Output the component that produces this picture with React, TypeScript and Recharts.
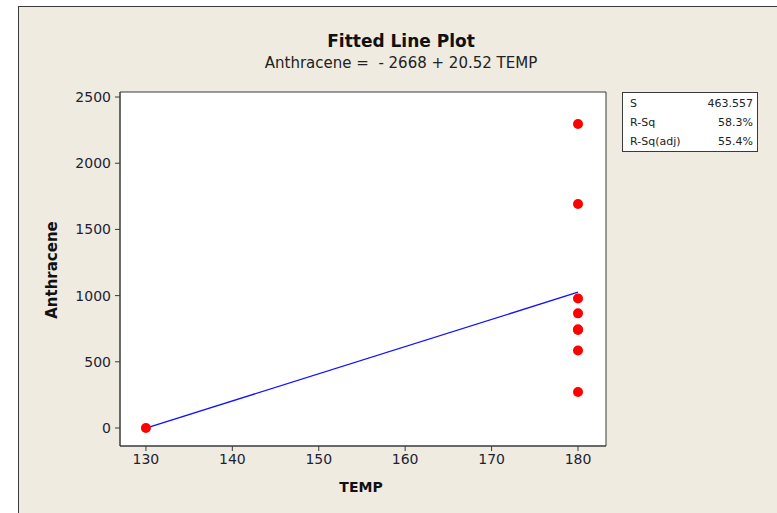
import React from "react";
import {
  ComposedChart,
  Scatter,
  Line,
  XAxis,
  YAxis,
  CartesianGrid,
  ReferenceArea,
} from "recharts";

// observed points (several overlap at TEMP = 180)
const obsTemp = [130, 180, 180, 180, 180, 180, 180, 180, 180];
const obsAnthracene = [0, 2296, 1692, 978, 866, 745, 740, 585, 272];

// fitted line endpoints: Anthracene = -2668 + 20.52 TEMP
const fitTemp = [130, 180];
const fitAnthracene = [-0.4, 1025.6];

const xTicks = [130, 140, 150, 160, 170, 180];
const yTicks = [0, 500, 1000, 1500, 2000, 2500];

const statLabels = ["S", "R-Sq", "R-Sq(adj)"];
const statValues = ["463.557", "58.3%", "55.4%"];

const xDomain: [number, number] = [127, 183.24];
const yDomain: [number, number] = [-136, 2538];

const font = "'DejaVu Sans', Verdana, sans-serif";
const tickColor = "#221f33";

const obsData = obsTemp.map((t, i) => ({ temp: t, value: obsAnthracene[i] }));
const fitData = fitTemp.map((t, i) => ({ temp: t, value: fitAnthracene[i] }));

const Dot = (p: any) => <circle cx={p.cx} cy={p.cy} r={5} fill="#ff0000" />;

export default function App() {
  return (
    <div
      style={{
        position: "absolute",
        left: 0,
        top: 0,
        width: 777,
        height: 513,
        background: "#ffffff",
        overflow: "hidden",
        fontFamily: font,
      }}
    >
      {/* graph window */}
      <div
        style={{
          position: "absolute",
          left: 18,
          top: 6,
          width: 780,
          height: 520,
          background: "#efebe1",
          borderLeft: "1px solid #3a3a3a",
          borderTop: "1px solid #3a3a3a",
        }}
      />

      <div
        style={{
          position: "absolute",
          left: 18,
          width: 766,
          top: 31,
          textAlign: "center",
          fontSize: 17,
          fontWeight: "bold",
          color: "#111",
        }}
      >
        Fitted Line Plot
      </div>
      <div
        style={{
          position: "absolute",
          left: 18,
          width: 766,
          top: 54,
          textAlign: "center",
          fontSize: 15,
          color: "#222",
          whiteSpace: "pre",
        }}
      >
        {"Anthracene =  - 2668 + 20.52 TEMP"}
      </div>

      <div style={{ position: "absolute", left: 0, top: 0 }}>
        <ComposedChart
          width={777}
          height={513}
          margin={{ top: 92, right: 171, bottom: 37, left: 60 }}
        >
          <CartesianGrid fill="#ffffff" horizontal={false} vertical={false} />
          <XAxis
            dataKey="temp"
            type="number"
            domain={xDomain}
            ticks={xTicks}
            allowDataOverflow
            height={30}
            tickSize={5}
            tickMargin={3}
            stroke="#3a3a3a"
            tick={{ fill: tickColor, fontSize: 14, fontFamily: font }}
          />
          <YAxis
            dataKey="value"
            type="number"
            domain={yDomain}
            ticks={yTicks}
            allowDataOverflow
            width={60}
            tickSize={5}
            tickMargin={4}
            stroke="#3a3a3a"
            tick={{ fill: tickColor, fontSize: 14, fontFamily: font }}
          />
          <ReferenceArea
            x1={xDomain[0]}
            x2={xDomain[1]}
            y1={yDomain[0]}
            y2={yDomain[1]}
            fill="none"
            stroke="#3a3a3a"
            strokeWidth={1}
          />
          <Line
            data={fitData}
            dataKey="value"
            stroke="#1010ff"
            strokeWidth={1.3}
            dot={false}
            isAnimationActive={false}
          />
          <Scatter
            data={obsData}
            dataKey="value"
            shape={Dot}
            isAnimationActive={false}
          />
        </ComposedChart>
      </div>

      <div
        style={{
          position: "absolute",
          left: 52 - 60,
          top: 261,
          width: 120,
          textAlign: "center",
          transform: "rotate(-90deg)",
          fontSize: 15,
          fontWeight: "bold",
          color: "#111",
        }}
      >
        Anthracene
      </div>
      <div
        style={{
          position: "absolute",
          left: 301,
          width: 120,
          top: 479,
          textAlign: "center",
          fontSize: 14,
          fontWeight: "bold",
          color: "#111",
        }}
      >
        TEMP
      </div>

      {/* summary statistics box */}
      <div
        style={{
          position: "absolute",
          left: 622,
          top: 92,
          width: 136,
          height: 60,
          border: "1px solid #3a3a3a",
          background: "#ffffff",
          fontSize: 11,
          color: "#222",
          padding: "1px 0 0 7px",
          boxSizing: "border-box",
        }}
      >
        {statLabels.map((l, i) => (
          <div
            key={l}
            style={{
              display: "flex",
              justifyContent: "space-between",
              paddingRight: 4,
              height: 19,
              lineHeight: "19px",
            }}
          >
            <span>{l}</span>
            <span>{statValues[i]}</span>
          </div>
        ))}
      </div>
    </div>
  );
}
